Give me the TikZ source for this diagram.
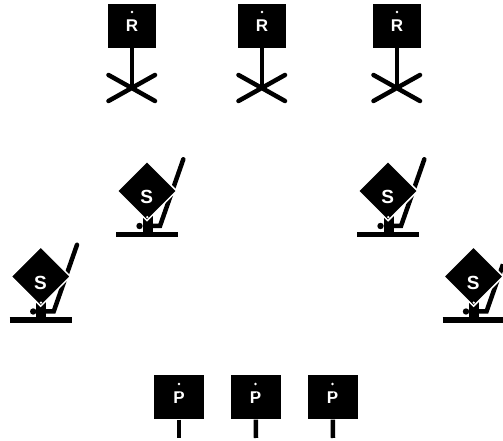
\documentclass[tikz,border=0pt]{standalone}
\usepackage{fontspec}
\setmainfont{Liberation Sans}
\usetikzlibrary{shapes.geometric}
\tikzset{
  sign/.style={rectangle,fill=black,text=white,inner sep=0pt,minimum width=#1,minimum height=44pt,font=\fontsize{17}{17}\selectfont\bfseries},
  tilt/.style={diamond,fill=black,draw=white,line width=1.5pt,inner sep=0pt,minimum width=60pt,minimum height=60pt},
  letter/.style={text=white,inner sep=0pt,font=\fontsize{19}{19}\selectfont\bfseries},
  stem/.style={line width=4.5pt},
  legs/.style={line width=4.5pt,line cap=round},
  plate/.style={line width=5.5pt},
  post/.style={line width=10pt},
  lever/.style={line width=4.5pt,line cap=round}
}
\begin{document}
\begin{tikzpicture}[x=1pt,y=1pt]
      \useasboundingbox (0,0) rectangle (503,441);
      % top row
      \coordinate (f1) at (132,353);
      \coordinate (f2) at (262,353);
      \coordinate (f3) at (397,353);
      \node[sign=48pt] (r1) at (132,415) {R};
      \node[sign=48pt] (r2) at (262,415) {R};
      \node[sign=48pt] (r3) at (397,415) {R};
      \draw[stem] (r1) -- (f1);
      \draw[stem] (r2) -- (f2);
      \draw[stem] (r3) -- (f3);
      \draw[legs] (108.5,340) -- (155,366) (108.5,366) -- (155,340);
      \draw[legs] (238.5,340) -- (285,366) (238.5,366) -- (285,340);
      \draw[legs] (373.5,340) -- (420,366) (373.5,366) -- (420,340);
      \fill[white] (132,429) circle (1.4) (262,429) circle (1.4) (397,429) circle (1.4);
      \fill[black] (131,417.5) circle (1.2) (261,417.5) circle (1.2) (396,417.5) circle (1.2);
      % left upper
      \coordinate (c1) at (147,250);
      \coordinate (b1) at (147.7,206.5);
      \coordinate (k1) at (160,215);
      \coordinate (t1) at (183.3,281.7);
      \draw[plate] (116,206.5) -- (178,206.5);
      \draw[post] (b1) -- (147.7,226);
      \fill (139.5,215) circle (3.2);
      \draw[lever] (152,215) -- (k1) -- (t1);
      \node[tilt] (s1) at (c1) {};
      \node[letter] (l1) at (146.8,244) {S};
      \fill[white] (147.3,223.8) circle (1.3);
      % right upper
      \coordinate (c2) at (388,250);
      \coordinate (b2) at (388.7,206.5);
      \coordinate (k2) at (401,215);
      \coordinate (t2) at (424.3,281.7);
      \draw[plate] (357,206.5) -- (419,206.5);
      \draw[post] (b2) -- (388.7,226);
      \fill (380.5,215) circle (3.2);
      \draw[lever] (393,215) -- (k2) -- (t2);
      \node[tilt] (s2) at (c2) {};
      \node[letter] (l2) at (387.8,244) {S};
      \fill[white] (388.3,223.8) circle (1.3);
      % left lower
      \coordinate (c3) at (40.7,164.5);
      \coordinate (b3) at (41.4,121);
      \coordinate (k3) at (53.7,129.5);
      \coordinate (t3) at (77,196.2);
      \draw[plate] (9.7,121) -- (71.7,121);
      \draw[post] (b3) -- (41.4,140.5);
      \fill (33.2,129.5) circle (3.2);
      \draw[lever] (45.7,129.5) -- (k3) -- (t3);
      \node[tilt] (s3) at (c3) {};
      \node[letter] (l3) at (40.5,158.5) {S};
      \fill[white] (41,138.3) circle (1.3);
      % right lower
      \coordinate (c4) at (473.5,164.5);
      \coordinate (b4) at (474.2,121);
      \coordinate (k4) at (486.5,129.5);
      \coordinate (t4) at (503,176.7);
      \draw[plate] (442.5,121) -- (503,121);
      \draw[post] (b4) -- (474.2,140.5);
      \fill (466,129.5) circle (3.2);
      \draw[lever,line cap=butt] (478.5,129.5) -- (k4) -- (t4);
      \node[tilt] (s4) at (c4) {};
      \node[letter] (l4) at (473.3,158.5) {S};
      \fill[white] (473.8,138.3) circle (1.3);
      % bottom row
      \coordinate (e1) at (179,3);
      \coordinate (e2) at (256,3);
      \coordinate (e3) at (333,3);
      \node[sign=50pt] (p1) at (179,43.5) {P};
      \node[sign=50pt] (p2) at (255.5,43.5) {P};
      \node[sign=50pt] (p3) at (332.5,43.5) {P};
      \draw[stem] (p1) -- (e1);
      \draw[stem] (p2) -- (e2);
      \draw[stem] (p3) -- (e3);
      \fill[white] (179,57) circle (1.4) (255.5,57) circle (1.4) (332.5,57) circle (1.4);
      \fill[black] (180,47.5) circle (1.2) (256.5,47.5) circle (1.2) (333.5,47.5) circle (1.2);
    \end{tikzpicture}
\end{document}
